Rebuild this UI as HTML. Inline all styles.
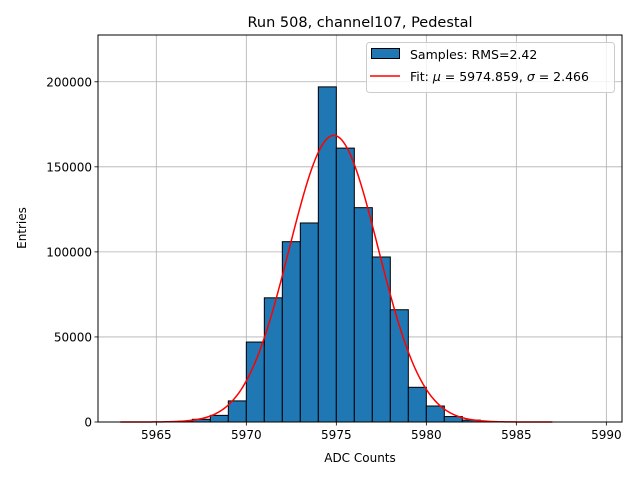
<!DOCTYPE html>
<html><head><meta charset="utf-8"><style>
body{margin:0;background:#fff}
svg{display:block;font-family:"DejaVu Sans","Liberation Sans",sans-serif}
</style></head><body>
<svg id="c" width="640" height="480" viewBox="0 0 640 480">
<rect width="640" height="480" fill="#fff"/>
<g id="grid"></g><g id="bars"></g><g id="curve"></g><g id="axes"></g>
<text x="360" y="27" text-anchor="middle" font-size="14.5">Run 508, channel107, Pedestal</text>
<text x="360" y="462" text-anchor="middle" font-size="12">ADC Counts</text>
<text transform="translate(26,228) rotate(-90)" text-anchor="middle" font-size="12">Entries</text>
<g>
<rect x="366.5" y="42.5" width="248" height="50" rx="3" fill="#fff" fill-opacity="0.8" stroke="#ccc"/>
<g><rect x="371.5" y="48.5" width="28" height="10" fill="#1f77b4" stroke="#000"/><text x="410" y="59" font-size="12.5">Samples: RMS=2.42</text></g>
<g><line x1="370" y1="76" x2="400" y2="76" stroke="red" stroke-width="1.5"/><text x="410" y="81" font-size="12.5">Fit: <tspan font-style="italic">μ</tspan> = 5974.859, <tspan font-style="italic">σ</tspan> = 2.466</text></g>
</g>
</svg>
<script>
const binEdges=[5966,5967,5968,5969,5970,5971,5972,5973,5974,5975,5976,5977,5978,5979,5980,5981,5982,5983];
const counts=[300,1600,3900,12400,47000,73000,106000,117000,197000,161000,126000,97000,66000,20400,9400,3200,1100,200];
const fitMu=5974.859, fitSigma=2.466, fitAmp=168500, fitRange=[5963,5987];
const xTicks=[5965,5970,5975,5980,5985,5990];
const yTicks=[0,50000,100000,150000,200000];
const L=98,R=622,T=35,B=422,x0=5961.76,x1=5990.87,y1=227500;
const X=v=>L+(v-x0)/(x1-x0)*(R-L), Y=v=>B-v/y1*(B-T);
const NS="http://www.w3.org/2000/svg";
function mk(t,a,p){const e=document.createElementNS(NS,t);for(const k in a)e.setAttribute(k,a[k]);p.appendChild(e);return e;}
const g=document.getElementById('grid'),b=document.getElementById('bars'),cu=document.getElementById('curve'),ax=document.getElementById('axes');
xTicks.forEach(t=>{const x=X(t);
 const l=mk('line',{x1:x,x2:x,y1:T,y2:B,stroke:'#b0b0b0','stroke-width':0.8},g);
 
 
 mk('line',{x1:x,x2:x,y1:B,y2:B+3.5,stroke:'#000','stroke-width':0.8},ax);
 const s=mk('text',{x:x,y:B+17,'text-anchor':'middle','font-size':12},ax);s.textContent=t;
 
 });
yTicks.forEach(t=>{const y=Y(t);
 const l=mk('line',{x1:L,x2:R,y1:y,y2:y,stroke:'#b0b0b0','stroke-width':0.8},g);
 
 
 mk('line',{x1:L-3.5,x2:L,y1:y,y2:y,stroke:'#000','stroke-width':0.8},ax);
 const s=mk('text',{x:L-6,y:y+4.5,'text-anchor':'end','font-size':12},ax);s.textContent=t;
 
 });
counts.forEach((c,i)=>{const xa=X(binEdges[i]),xb=X(binEdges[i]+1);
 const r=mk('rect',{x:xa,y:Y(c),width:xb-xa,height:B-Y(c),fill:'#1f77b4',stroke:'#000','stroke-width':1},b);
 
 });
let d='';for(let i=0;i<=240;i++){const v=fitRange[0]+(fitRange[1]-fitRange[0])*i/240;
 const f=fitAmp*Math.exp(-0.5*((v-fitMu)/fitSigma)**2);d+=(i?'L':'M')+X(v).toFixed(2)+','+Y(f).toFixed(2);}
const p=mk('path',{d:d,fill:'none',stroke:'red','stroke-width':1.5},cu);


const fr=mk('rect',{x:L,y:T,width:R-L,height:B-T,fill:'none',stroke:'#000','stroke-width':1},ax);


</script>
</body></html>
